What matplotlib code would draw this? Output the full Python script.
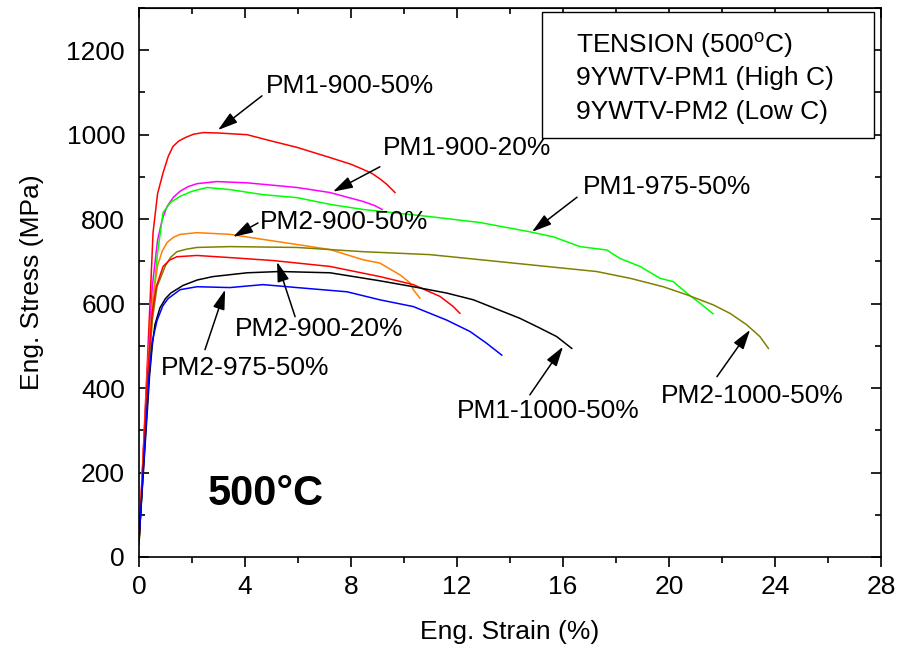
import matplotlib
matplotlib.use('Agg')
import matplotlib.pyplot as plt
from matplotlib.patches import Rectangle
from matplotlib.ticker import MultipleLocator

plt.rcParams['font.family'] = ['Liberation Sans', 'DejaVu Sans']
plt.rcParams['mathtext.fontset'] = 'custom'
plt.rcParams['mathtext.rm'] = 'Liberation Sans'

# strain (%) / stress (MPa)
pm1_900_50_x = [0.0, 0.3, 0.42, 0.53, 0.7, 0.91, 1.1, 1.28, 1.5, 1.74, 2.05, 2.42, 3.0, 4.08, 5.0, 5.96,
                7.2, 8.0, 8.45, 8.8, 9.1, 9.36, 9.55, 9.66]
pm1_900_50_y = [30, 440, 609, 768, 860, 910, 948, 972, 985, 993, 1001, 1005, 1004, 1000, 985, 970,
                946, 930, 918, 908, 895, 882, 870, 863]

pm1_900_20_x = [0.0, 0.3, 0.5, 0.7, 0.88, 1.06, 1.3, 1.55, 1.85, 2.19, 2.94, 4.08, 5.96, 7.21, 8.45, 8.9, 9.17]
pm1_900_20_y = [40, 420, 640, 750, 800, 830, 852, 866, 877, 884, 889, 886, 875, 863, 842, 832, 823]

pm1_975_50_x = [0.0, 0.35, 0.55, 0.7, 0.91, 1.2, 1.55, 2.0, 2.57, 3.43, 4.68, 5.96, 7.21, 8.45, 10.98, 12.87,
                14.75, 15.64, 16.64, 17.65, 18.15, 18.91, 19.66, 20.16, 20.67, 21.17, 21.66]
pm1_975_50_y = [30, 430, 620, 720, 816, 840, 854, 866, 875, 870, 858, 851, 835, 823, 806, 792,
                770, 758, 735, 727, 707, 688, 660, 652, 625, 601, 576]

pm2_900_50_x = [0.0, 0.3, 0.5, 0.7, 0.88, 1.06, 1.3, 1.55, 2.19, 3.43, 4.68, 5.96, 7.21, 8.45, 9.09,
                9.85, 10.23, 10.35, 10.6]
pm2_900_50_y = [40, 420, 600, 690, 725, 745, 757, 764, 768, 764, 752, 740, 728, 704, 696,
                668, 649, 633, 613]

pm2_1000_50_x = [0.0, 0.35, 0.5, 0.68, 1.0, 1.2, 1.43, 1.8, 2.19, 3.43, 5.96, 8.45, 10.98, 12.87, 15.38,
                 17.27, 18.53, 19.78, 20.67, 21.67, 22.3, 22.93, 23.43, 23.75]
pm2_1000_50_y = [35, 420, 560, 640, 690, 710, 723, 729, 733, 735, 733, 723, 716, 704, 688,
                 676, 660, 640, 621, 597, 577, 550, 522, 494]

pm2_900_20_x = [0.0, 0.3, 0.5, 0.65, 0.91, 1.15, 1.43, 2.19, 3.43, 5.06, 7.21, 9.09, 10.35, 11.36, 11.86, 12.11]
pm2_900_20_y = [30, 410, 580, 640, 688, 703, 711, 714, 709, 702, 688, 664, 645, 617, 593, 577]

pm1_1000_50_x = [0.0, 0.4, 0.5, 0.6, 0.79, 1.0, 1.2, 1.66, 2.2, 2.79, 4.08, 5.32, 7.21, 9.09, 10.35,
                 11.61, 12.62, 13.5, 14.38, 15.13, 15.76, 16.33]
pm1_1000_50_y = [40, 430, 500, 550, 590, 612, 625, 643, 656, 664, 673, 676, 673, 654, 640,
                 625, 609, 587, 565, 542, 522, 494]

pm2_975_50_x = [0.0, 0.38, 0.5, 0.68, 0.9, 1.1, 1.55, 2.19, 3.43, 4.68, 5.96, 7.85, 9.09, 10.35, 11.61,
                12.49, 13.12, 13.69]
pm2_975_50_y = [40, 430, 510, 560, 595, 612, 633, 640, 638, 645, 638, 628, 609, 593, 561,
                534, 506, 478]

curves = [
    (pm1_900_50_x, pm1_900_50_y, '#ff0000'),
    (pm1_900_20_x, pm1_900_20_y, '#ff00ff'),
    (pm1_975_50_x, pm1_975_50_y, '#00ff00'),
    (pm2_900_50_x, pm2_900_50_y, '#ff8000'),
    (pm2_1000_50_x, pm2_1000_50_y, '#808000'),
    (pm2_900_20_x, pm2_900_20_y, '#ff0000'),
    (pm1_1000_50_x, pm1_1000_50_y, '#000000'),
    (pm2_975_50_x, pm2_975_50_y, '#0000ff'),
]

# label, text centre, arrow tail, arrow head
labels = ['PM1-900-50%', 'PM1-900-20%', 'PM1-975-50%', 'PM2-900-50%',
          'PM2-900-20%', 'PM2-975-50%', 'PM1-1000-50%', 'PM2-1000-50%']
label_pos = [(7.96, 1116), (12.38, 969), (19.92, 876), (7.74, 793),
             (6.79, 541), (4.0, 448), (15.43, 346), (23.13, 382)]
arrow_tail = [(4.64, 1092), (9.09, 924), (16.53, 852), (4.49, 791),
              (5.89, 569), (2.49, 491), (14.75, 384), (21.81, 427)]
arrow_head = [(2.98, 1011), (7.32, 865), (14.83, 770), (3.55, 758),
              (5.21, 699), (3.25, 633), (16.0, 498), (23.06, 538)]

fig = plt.figure(figsize=(9.14, 6.49), dpi=100)
ax = fig.add_axes([139/914, 1 - 557/649, 742/914, 549/649])

for x, y, c in curves:
    ax.plot(x, y, color=c, lw=1.1)

for lab, p, t, h in zip(labels, label_pos, arrow_tail, arrow_head):
    ax.text(p[0], p[1], lab, fontsize=19, ha='center', va='center')
    ax.annotate('', xy=h, xytext=t,
                arrowprops=dict(arrowstyle='-|>,head_length=1.0,head_width=0.3',
                                color='black', lw=1.1, mutation_scale=12,
                                shrinkA=0, shrinkB=0))

ax.text(4.79, 149, '500°C', fontsize=30, fontweight='bold', ha='center', va='center')

# text box in the top right corner
ax.add_patch(Rectangle((0.543, 0.763), 0.4476, 0.2297, transform=ax.transAxes,
                       facecolor='white', edgecolor='black', lw=1.0, zorder=5))
box_lines = ['TENSION (500$^{\\rm o}$C)', '9YWTV-PM1 (High C)', '9YWTV-PM2 (Low C)']
for line, yy in zip(box_lines, [0.9326, 0.8725, 0.8106]):
    ax.text(0.589, yy, line, transform=ax.transAxes, fontsize=19,
            ha='left', va='center', zorder=6)

ax.set_xlim(0, 28)
ax.set_ylim(0, 1300)
ax.xaxis.set_major_locator(MultipleLocator(4))
ax.xaxis.set_minor_locator(MultipleLocator(2))
ax.yaxis.set_major_locator(MultipleLocator(200))
ax.yaxis.set_minor_locator(MultipleLocator(100))
ax.set_yticks([0, 200, 400, 600, 800, 1000, 1200])

for s in ax.spines.values():
    s.set_linewidth(1.2)
ax.tick_params(axis='x', which='both', direction='out', top=False, labelsize=19, pad=6, width=1.2)
ax.tick_params(axis='x', which='major', length=7)
ax.tick_params(axis='x', which='minor', length=4)
ax.tick_params(axis='y', which='both', direction='in', right=True, labelsize=19, pad=10, width=1.2)
ax.tick_params(axis='y', which='major', length=7)
ax.tick_params(axis='y', which='minor', length=4)
sec = ax.secondary_xaxis('top')
sec.xaxis.set_major_locator(MultipleLocator(4))
sec.xaxis.set_minor_locator(MultipleLocator(2))
sec.tick_params(which='both', direction='in', labeltop=False, width=1.2)
sec.tick_params(which='major', length=7)
sec.tick_params(which='minor', length=4)

ax.set_xlabel('Eng. Strain (%)', fontsize=19, labelpad=15)
ax.set_ylabel('Eng. Stress (MPa)', fontsize=19, labelpad=16)

fig.savefig('out.png', dpi=100)
